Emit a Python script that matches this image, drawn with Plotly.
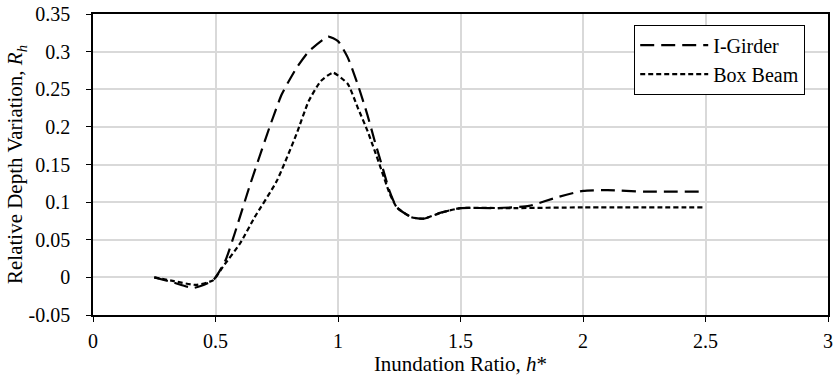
import plotly.graph_objects as go

h_ig = [0.25, 0.33, 0.41, 0.49, 0.54, 0.58, 0.64, 0.72, 0.77, 0.83, 0.88, 0.96, 1.0, 1.04, 1.08, 1.12,
        1.15, 1.18, 1.21, 1.24, 1.3, 1.35, 1.42, 1.5, 1.65, 1.78, 1.9, 2.0, 2.1, 2.25, 2.5]
r_ig = [0.0, -0.007, -0.014, -0.004, 0.022, 0.06, 0.122, 0.199, 0.243, 0.278, 0.300, 0.320, 0.314, 0.292,
        0.257, 0.216, 0.181, 0.148, 0.115, 0.093, 0.080, 0.078, 0.086, 0.092, 0.092, 0.095, 0.107, 0.115,
        0.116, 0.114, 0.114]
h_bb = [0.25, 0.33, 0.42, 0.49, 0.53, 0.6, 0.66, 0.75, 0.83, 0.88, 0.93, 0.98, 1.04, 1.08, 1.12, 1.15,
        1.18, 1.21, 1.24, 1.3, 1.35, 1.42, 1.5, 1.7, 2.0, 2.5]
r_bb = [0.0, -0.005, -0.010, -0.004, 0.014, 0.045, 0.08, 0.128, 0.19, 0.234, 0.261, 0.272, 0.257, 0.226,
        0.195, 0.168, 0.140, 0.112, 0.093, 0.080, 0.078, 0.086, 0.092, 0.092, 0.093, 0.093]

x_ticks = [0, 0.5, 1, 1.5, 2, 2.5, 3]
x_labels = ["0", "0.5", "1", "1.5", "2", "2.5", "3"]
y_ticks = [-0.05, 0, 0.05, 0.1, 0.15, 0.2, 0.25, 0.3, 0.35]
y_labels = ["-0.05", "0", "0.05", "0.1", "0.15", "0.2", "0.25", "0.3", "0.35"]

FONT = "Liberation Serif"

fig = go.Figure()
fig.add_trace(go.Scatter(x=h_ig, y=r_ig, mode="lines", name="I-Girder",
                         line=dict(color="black", width=2.2, dash="14px,7px", shape="spline", smoothing=0.5)))
fig.add_trace(go.Scatter(x=h_bb, y=r_bb, mode="lines", name="Box Beam",
                         line=dict(color="black", width=2.2, dash="5px,3px", shape="spline", smoothing=0.5)))

fig.update_layout(
    width=836, height=388,
    margin=dict(l=93, r=3, t=13, b=73),
    plot_bgcolor="white", paper_bgcolor="white",
    font=dict(family=FONT, size=20, color="black"),
    showlegend=True,
    legend=dict(x=0.969, y=0.965, xanchor="right", yanchor="top",
                bordercolor="black", borderwidth=1, bgcolor="white",
                font=dict(family=FONT, size=20, color="black"), itemwidth=68, tracegroupgap=0),
    xaxis=dict(range=[0, 3], tickvals=x_ticks, ticktext=x_labels,
               tickfont=dict(family=FONT, size=20, color="black"),
               showgrid=True, gridcolor="#d9d9d9", gridwidth=1.5,
               showline=True, linecolor="black", linewidth=1.5, mirror=True,
               ticks="outside", ticklen=5, tickcolor="black", zeroline=False,
               ticklabelstandoff=2,
               title=dict(text="Inundation Ratio, <i>h</i>*", standoff=2,
                          font=dict(family=FONT, size=21, color="black"))),
    yaxis=dict(range=[-0.05, 0.35], tickvals=y_ticks, ticktext=y_labels,
               tickfont=dict(family=FONT, size=20, color="black"),
               showgrid=True, gridcolor="#d9d9d9", gridwidth=1.5,
               showline=True, linecolor="black", linewidth=1.5, mirror=True,
               ticks="outside", ticklen=5, tickcolor="black", zeroline=False,
               ticklabelstandoff=12,
               title=dict(text="Relative Depth Variation, <i>R<sub>h</sub></i>", standoff=0,
                          font=dict(family=FONT, size=21, color="black"))),
)

fig.write_html("out.html")
